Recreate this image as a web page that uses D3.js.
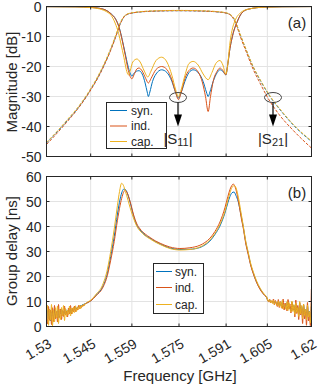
<!DOCTYPE html>
<html><head><meta charset="utf-8">
<script src="https://cdn.jsdelivr.net/npm/d3@7"></script>
<style>
body{margin:0;background:#fff}
svg{display:block}
text{font-family:"Liberation Sans",Arial,Helvetica,sans-serif;fill:#262626}
</style>
</head><body><svg id="c" width="320" height="386"></svg>
<script>
const seriesNames = ["syn.", "ind.", "cap."];
const colors = ["#0072BD", "#D95319", "#EDB120"];
const xTicks = [1.53, 1.545, 1.559, 1.575, 1.591, 1.605, 1.62];
const xTickLabels = ["1.53", "1.545", "1.559", "1.575", "1.591", "1.605", "1.62"];
const magTicks = [0, -10, -20, -30, -40, -50];
const gdTicks = [0, 10, 20, 30, 40, 50, 60];

// |S11| in dB  [GHz, dB]
const s11Syn = [[1.530,-0.05],[1.540,-0.1],[1.545,-0.3],[1.548,-0.6],[1.5505,-1.4],[1.552,-2.5],[1.5535,-4.2],[1.5547,-7],[1.5557,-11],[1.5567,-15.5],[1.5576,-19.5],[1.5584,-22.2],[1.5590,-23.2],[1.5596,-22.4],[1.5605,-21.6],[1.5614,-21.4],[1.5625,-22.5],[1.5635,-25.5],[1.5642,-28.5],[1.5646,-30],[1.5651,-28.5],[1.5660,-25],[1.5672,-22.5],[1.5691,-21.1],[1.5709,-22],[1.5726,-25],[1.5738,-28.5],[1.5748,-30.5],[1.5758,-28.5],[1.5770,-25],[1.5784,-22],[1.5798,-21.1],[1.5815,-22],[1.5832,-25],[1.5843,-28.5],[1.5849,-30],[1.5855,-28.5],[1.5866,-25],[1.5880,-22],[1.5889,-21.1],[1.5899,-21.6],[1.5909,-22.8],[1.5916,-19],[1.5923,-14],[1.5929,-11],[1.5934,-8.9],[1.5946,-5.5],[1.5963,-2.2],[1.5985,-0.9],[1.6041,-0.2],[1.6100,-0.08],[1.620,-0.03]];
const s11Ind = [[1.530,-0.05],[1.540,-0.1],[1.545,-0.3],[1.548,-0.6],[1.5505,-1.4],[1.552,-2.5],[1.5535,-4.3],[1.5547,-7.2],[1.5557,-11.2],[1.5567,-16],[1.5576,-20.5],[1.5584,-23.3],[1.5590,-24.1],[1.5597,-22.8],[1.5607,-20.8],[1.5614,-20.5],[1.5625,-21.5],[1.5637,-24],[1.5646,-25.5],[1.5655,-24],[1.5672,-21],[1.5691,-20],[1.5709,-21],[1.5726,-24.5],[1.5738,-28.5],[1.5748,-31],[1.5758,-28.5],[1.5770,-24],[1.5784,-21.3],[1.5798,-20.5],[1.5815,-21.8],[1.5830,-25.5],[1.5840,-30],[1.5849,-35],[1.5857,-30],[1.5866,-25],[1.5880,-21.5],[1.5889,-20.5],[1.5899,-21.3],[1.5909,-22.8],[1.5916,-19],[1.5923,-14],[1.5929,-11],[1.5934,-8.9],[1.5946,-5.5],[1.5963,-2.2],[1.5985,-0.9],[1.6041,-0.2],[1.6100,-0.08],[1.620,-0.03]];
const s11Cap = [[1.530,-0.05],[1.540,-0.12],[1.545,-0.35],[1.548,-0.8],[1.5505,-1.8],[1.552,-3],[1.5533,-5.5],[1.5545,-9],[1.5553,-12.5],[1.5563,-17],[1.5571,-21],[1.5578,-22.8],[1.5584,-21.5],[1.5593,-18.5],[1.5607,-17.5],[1.5618,-18.5],[1.5632,-21.5],[1.5644,-23.5],[1.5655,-21.5],[1.5672,-18],[1.5691,-16.9],[1.5709,-18.5],[1.5726,-23],[1.5738,-27.5],[1.5748,-30],[1.5758,-27.5],[1.5770,-23],[1.5784,-19],[1.5798,-18.3],[1.5815,-19.5],[1.5832,-22.5],[1.5849,-24.4],[1.5862,-22],[1.5875,-19],[1.5889,-18],[1.5899,-19.5],[1.5909,-22.5],[1.5916,-19],[1.5922,-13],[1.5930,-8],[1.5940,-4.8],[1.5960,-2],[1.5985,-0.9],[1.6041,-0.2],[1.6100,-0.08],[1.620,-0.03]];

// |S21| in dB  [GHz, dB]
const s21Syn = [[1.5300,-45.5],[1.5337,-41.7],[1.5371,-38.0],[1.5405,-34.1],[1.5439,-29.4],[1.5451,-27.5],[1.5473,-23.9],[1.5496,-19.4],[1.5518,-14.4],[1.5535,-10],[1.5550,-5.8],[1.5563,-3.5],[1.5580,-2.4],[1.5595,-2.1],[1.5620,-1.8],[1.5680,-1.5],[1.5750,-1.4],[1.5820,-1.5],[1.5880,-1.8],[1.5910,-2.2],[1.5925,-2.8],[1.5935,-3.9],[1.5946,-6.2],[1.5960,-10],[1.5980,-15],[1.6001,-20],[1.6028,-25],[1.6059,-30],[1.6098,-35],[1.6143,-40],[1.6200,-45]];
const s21Ind = [[1.5300,-46],[1.5337,-42.1],[1.5371,-38.3],[1.5405,-34.3],[1.5439,-29.6],[1.5451,-27.7],[1.5473,-24.1],[1.5496,-19.6],[1.5518,-14.6],[1.5535,-10.2],[1.5550,-5.9],[1.5563,-3.5],[1.5580,-2.4],[1.5595,-2.1],[1.5620,-1.8],[1.5680,-1.5],[1.5750,-1.4],[1.5820,-1.5],[1.5880,-1.8],[1.5910,-2.2],[1.5925,-2.9],[1.5935,-4.1],[1.5946,-6.5],[1.5960,-10.5],[1.5980,-15.5],[1.6000,-20.5],[1.6025,-25.5],[1.6052,-30.5],[1.6090,-36],[1.6135,-41],[1.6200,-47.2]];
const s21Cap = [[1.5300,-45.3],[1.5337,-41.5],[1.5371,-37.7],[1.5405,-33.8],[1.5439,-29.1],[1.5451,-27.2],[1.5473,-23.5],[1.5496,-19],[1.5518,-14],[1.5535,-9.6],[1.5550,-5.5],[1.5563,-3.3],[1.5580,-2.3],[1.5595,-2.0],[1.5620,-1.7],[1.5680,-1.4],[1.5750,-1.3],[1.5820,-1.4],[1.5880,-1.7],[1.5910,-2.1],[1.5925,-2.7],[1.5935,-3.7],[1.5946,-6.0],[1.5960,-9.8],[1.5980,-14.8],[1.6001,-19.8],[1.6028,-24.8],[1.6059,-29.8],[1.6098,-34.8],[1.6143,-39.8],[1.6200,-44.8]];

// Group delay [GHz, ns]
const gdSyn = [[1.5435,9.3],[1.5451,10.4],[1.5469,12.6],[1.5490,15.7],[1.5507,21.5],[1.5518,28],[1.5530,36],[1.5541,45],[1.5550,51],[1.5557,54],[1.5563,55],[1.5570,54.5],[1.5577,52.5],[1.5584,49.7],[1.5595,44.5],[1.5607,40.5],[1.5618,38.6],[1.5635,36.5],[1.5652,35.3],[1.5669,34],[1.5686,33],[1.5719,31.4],[1.5753,30.8],[1.5787,30.9],[1.5821,31.6],[1.5838,32.6],[1.5855,34.2],[1.5872,36.8],[1.5889,40.2],[1.5906,45.4],[1.5916,49.5],[1.5923,52],[1.5930,53.5],[1.5937,53.8],[1.5943,52.5],[1.5951,50],[1.5960,45],[1.5968,40],[1.5977,33.5],[1.5985,29.3],[1.5994,24.5],[1.6002,21.5],[1.6011,18.5],[1.6019,16.4],[1.6031,14],[1.6042,12.4],[1.6048,11.6]];
const gdInd = [[1.5435,9.3],[1.5451,10.3],[1.5469,12.4],[1.5490,15.3],[1.5507,20.5],[1.5518,26.5],[1.5530,34],[1.5541,42.5],[1.5550,48.5],[1.5557,52],[1.5563,54],[1.5568,54.5],[1.5574,53.5],[1.5584,50],[1.5595,45],[1.5607,41],[1.5618,39],[1.5635,37],[1.5652,35.6],[1.5669,34.3],[1.5686,33.3],[1.5719,31.8],[1.5753,31.2],[1.5787,31.5],[1.5821,32.5],[1.5838,33.6],[1.5855,35.3],[1.5872,38],[1.5889,41.8],[1.5906,47.5],[1.5916,52],[1.5923,54.8],[1.5930,56.5],[1.5934,57],[1.5940,56],[1.5947,53],[1.5955,48],[1.5962,43],[1.5968,39.5],[1.5977,33],[1.5985,28.8],[1.5994,24.2],[1.6002,21.2],[1.6011,18.3],[1.6019,16.2],[1.6031,13.8],[1.6042,12.3],[1.6048,11.5]];
const gdCap = [[1.5435,9.4],[1.5451,10.6],[1.5469,13],[1.5490,16.5],[1.5507,23],[1.5518,30],[1.5530,39],[1.5541,48.5],[1.5548,54],[1.5555,57.3],[1.5561,56.5],[1.5568,54],[1.5577,50.5],[1.5584,47.5],[1.5595,43.5],[1.5607,40],[1.5618,38.2],[1.5635,36.3],[1.5652,35],[1.5669,33.8],[1.5686,32.8],[1.5719,31.2],[1.5753,30.6],[1.5787,30.8],[1.5821,31.8],[1.5838,32.9],[1.5855,34.6],[1.5872,37.2],[1.5889,40.8],[1.5906,46],[1.5916,50.5],[1.5923,53.5],[1.5930,55.6],[1.5938,56.4],[1.5945,55],[1.5952,51.5],[1.5960,46],[1.5968,40.5],[1.5977,34],[1.5985,29.8],[1.5994,25],[1.6002,22],[1.6011,19],[1.6019,16.8],[1.6031,14.3],[1.6042,12.6],[1.6048,11.8]];

// measurement noise at the band edges (values read per sample) [ns]
const noiseLeftStart = 1.5300, noiseLeftStep = 0.00034;
const noiseRightStart = 1.6051, noiseRightStep = 0.00033;
const gdNoiseLeftSyn = [4,6.5,3,7,2.2,5.4,6.2,3.2,7,4,5.2,6.4,3.4,6.2,5,7,4.2,6.2,5.2,7,5,6.2,6,7.2,5.4,7,6.2,7.2,6.8,7.8,7,7.6,8,8,8.4,8.2,8.8,8.7,9.1,9.2];
const gdNoiseLeftInd = [4.5,1,8,2.5,6.5,0.8,7.5,2,8.4,3,6,1.8,8.8,3.6,7,2.8,6.4,4,8.2,4.6,6.2,3.8,7.4,5,8.4,5,7.2,5.8,8.2,6,7.4,6.6,8.4,7.2,8.2,7.6,8.6,8.2,9,9.2];
const gdNoiseLeftCap = [1.5,8.5,0.5,7,2.5,8.8,0.3,6.5,1.8,7.5,3.5,8.2,1.2,6.8,2.8,7.6,4.2,8.4,2.4,7.2,4,6.6,4.8,8.2,4.2,7.4,5.2,7.8,5.6,8.3,6,7.7,6.8,8.6,7,8.5,7.8,9,8.4,9.1];
const gdNoiseRightSyn = [10.4,10.1,10.6,9.8,10.2,9.5,10.3,9.1,9.9,9.4,8.8,9.9,8.4,9.6,8.2,9.7,7.6,9,8.3,7.2,9.6,7,9.1,7.4,6.4,9.5,6.5,8.5,5.6,8.9,6,7.6,4.8,9.3,5.5,8,4,8.6,5,7,3.4,8.2,4.4,6.2,2.6,8];
const gdNoiseRightInd = [10.6,9.8,11,9.4,10.2,9.6,11,8.6,10.4,9,8,10.8,7.6,10,8.8,7.2,11,6.6,9.4,7.8,6.2,10.8,7,9,5.4,9.8,6.6,8,3.8,10.6,5.2,8.4,2.8,9.6,4.6,7.2,1.2,8.8,3,6.4,0.5,9.6,2.2,5,0.3,15];
const gdNoiseRightCap = [10.5,10,10.8,9.6,10.4,9.2,10.6,8.8,10,9.5,8.4,10.2,8,9.8,7.6,10.4,7,9,8.2,6.8,10,6.4,9.6,7,5.8,10.2,6,8.8,4.8,9.4,5.6,7.6,4,10,5,8.4,3.2,9,4.4,7,2.6,8.6,3.8,6,1.5,9];

const s11 = [s11Syn, s11Ind, s11Cap];
const s21 = [s21Syn, s21Ind, s21Cap];
const gdMain = [gdSyn, gdInd, gdCap];
const gdNL = [gdNoiseLeftSyn, gdNoiseLeftInd, gdNoiseLeftCap];
const gdNR = [gdNoiseRightSyn, gdNoiseRightInd, gdNoiseRightCap];

const svg = d3.select("#c");
const L = 46.5, R = 311.5;
const x = d3.scaleLinear().domain([1.53, 1.62]).range([L, R]);
const yA = d3.scaleLinear().domain([-50, 0]).range([156.5, 6.5]);
const yB = d3.scaleLinear().domain([0, 60]).range([326.5, 176.5]);
const axisCol = "#262626", gridCol = "#e3e3e3";

function panel(y, ticks, id) {
  const [b, t] = y.range();
  const g = svg.append("g");
  g.selectAll(".gx").data(xTicks).join("line")
    .attr("x1", d => x(d)).attr("x2", d => x(d)).attr("y1", t).attr("y2", b)
    .attr("stroke", gridCol).attr("stroke-width", 1);
  g.selectAll(".gy").data(ticks).join("line")
    .attr("x1", L).attr("x2", R).attr("y1", d => y(d)).attr("y2", d => y(d))
    .attr("stroke", gridCol).attr("stroke-width", 1);
  svg.append("defs").append("clipPath").attr("id", id)
    .append("rect").attr("x", L).attr("y", t).attr("width", R - L).attr("height", b - t);
  return g;
}
function frame(y, ticks, showX) {
  const [b, t] = y.range();
  const g = svg.append("g");
  g.append("rect").attr("x", L).attr("y", t).attr("width", R - L).attr("height", b - t)
    .attr("fill", "none").attr("stroke", axisCol).attr("stroke-width", 1);
  const tl = 3;
  xTicks.forEach(v => {
    g.append("line").attr("x1", x(v)).attr("x2", x(v)).attr("y1", b).attr("y2", b - tl).attr("stroke", axisCol);
    g.append("line").attr("x1", x(v)).attr("x2", x(v)).attr("y1", t).attr("y2", t + tl).attr("stroke", axisCol);
  });
  ticks.forEach(v => {
    g.append("line").attr("x1", L).attr("x2", L + tl).attr("y1", y(v)).attr("y2", y(v)).attr("stroke", axisCol);
    g.append("line").attr("x1", R).attr("x2", R - tl).attr("y1", y(v)).attr("y2", y(v)).attr("stroke", axisCol);
    g.append("text").attr("x", L - 5).attr("y", y(v)).attr("dy", "0.36em")
      .attr("text-anchor", "end").attr("font-size", 14).text(v);
  });
  if (showX) {
    xTicks.forEach((v, i) => {
      g.append("text").attr("text-anchor", "end").attr("font-size", 14)
        .attr("transform", `translate(${x(v) + 6},${b + 20}) rotate(-30)`)
        .text(xTickLabels[i]);
    });
  }
}

// Panel (a)
panel(yA, magTicks, "clipA");
const lineA = d3.line().x(d => x(d[0])).y(d => yA(d[1])).curve(d3.curveMonotoneX);
const gA = svg.append("g").attr("clip-path", "url(#clipA)");
[0, 1, 2].forEach(i => {
  gA.append("path").attr("d", lineA(s21[i])).attr("fill", "none")
    .attr("stroke", colors[i]).attr("stroke-width", 1).attr("stroke-dasharray", "3,1.5");
  gA.append("path").attr("d", lineA(s11[i])).attr("fill", "none")
    .attr("stroke", colors[i]).attr("stroke-width", 1);
});
frame(yA, magTicks, false);

// Panel (b)
panel(yB, gdTicks, "clipB");
const lineB = d3.line().x(d => x(d[0])).y(d => yB(d[1])).curve(d3.curveMonotoneX);
const gB = svg.append("g").attr("clip-path", "url(#clipB)");
[0, 1, 2].forEach(i => {
  const pts = gdNL[i].map((v, k) => [noiseLeftStart + k * noiseLeftStep, v])
    .concat(gdMain[i])
    .concat(gdNR[i].map((v, k) => [noiseRightStart + k * noiseRightStep, v]));
  gB.append("path").attr("d", lineB(pts)).attr("fill", "none")
    .attr("stroke", colors[i]).attr("stroke-width", 1);
});
frame(yB, gdTicks, true);

// axis labels
svg.append("text").attr("transform", "translate(17,82) rotate(-90)").attr("text-anchor", "middle")
  .attr("font-size", 15).text("Magnitude [dB]");
svg.append("text").attr("transform", "translate(17,251) rotate(-90)").attr("text-anchor", "middle")
  .attr("font-size", 15).text("Group delay [ns]");
svg.append("text").attr("x", 180).attr("y", 381).attr("text-anchor", "middle")
  .attr("font-size", 15).text("Frequency [GHz]");

// panel tags
svg.append("text").attr("x", 297).attr("y", 28).attr("text-anchor", "middle").attr("font-size", 15).text("(a)");
svg.append("text").attr("x", 297).attr("y", 198).attr("text-anchor", "middle").attr("font-size", 15).text("(b)");

// legends
function legend(x0, y0, w, h, rowYs, lineX0, lineX1, textX) {
  const g = svg.append("g");
  g.append("rect").attr("x", x0).attr("y", y0).attr("width", w).attr("height", h)
    .attr("fill", "#fff").attr("stroke", axisCol).attr("stroke-width", 1);
  seriesNames.forEach((n, i) => {
    g.append("line").attr("x1", lineX0).attr("x2", lineX1).attr("y1", rowYs[i]).attr("y2", rowYs[i])
      .attr("stroke", colors[i]).attr("stroke-width", 1);
    g.append("text").attr("x", textX).attr("y", rowYs[i]).attr("dy", "0.35em")
      .attr("font-size", 12).text(n);
  });
}
legend(106.5, 102.5, 60, 46, [110.5, 126, 141.5], 110, 127, 131);
legend(153.5, 263.5, 50, 50, [271.5, 287.5, 304.5], 156, 172, 175);

// annotations: ellipse + arrow + label
function marker(cx, cy, sub) {
  const g = svg.append("g");
  g.append("ellipse").attr("cx", cx).attr("cy", cy).attr("rx", 8.5).attr("ry", 5)
    .attr("fill", "none").attr("stroke", "#444").attr("stroke-width", 1);
  g.append("line").attr("x1", cx).attr("x2", cx).attr("y1", cy + 5).attr("y2", cy + 19)
    .attr("stroke", "#000").attr("stroke-width", 1.2);
  g.append("path").attr("d", `M${cx - 4},${cy + 17} L${cx + 4},${cy + 17} L${cx},${cy + 29} Z`).attr("fill", "#000");
  const t = g.append("text").attr("x", cx).attr("y", cy + 46).attr("text-anchor", "middle").attr("font-size", 15);
  t.append("tspan").text("|S");
  t.append("tspan").attr("font-size", 11).attr("dy", 2).text(sub);
  t.append("tspan").attr("dy", -2).text("|");
}
marker(178, 97.5, "11");
marker(273, 97.5, "21");
</script>
</body></html>
